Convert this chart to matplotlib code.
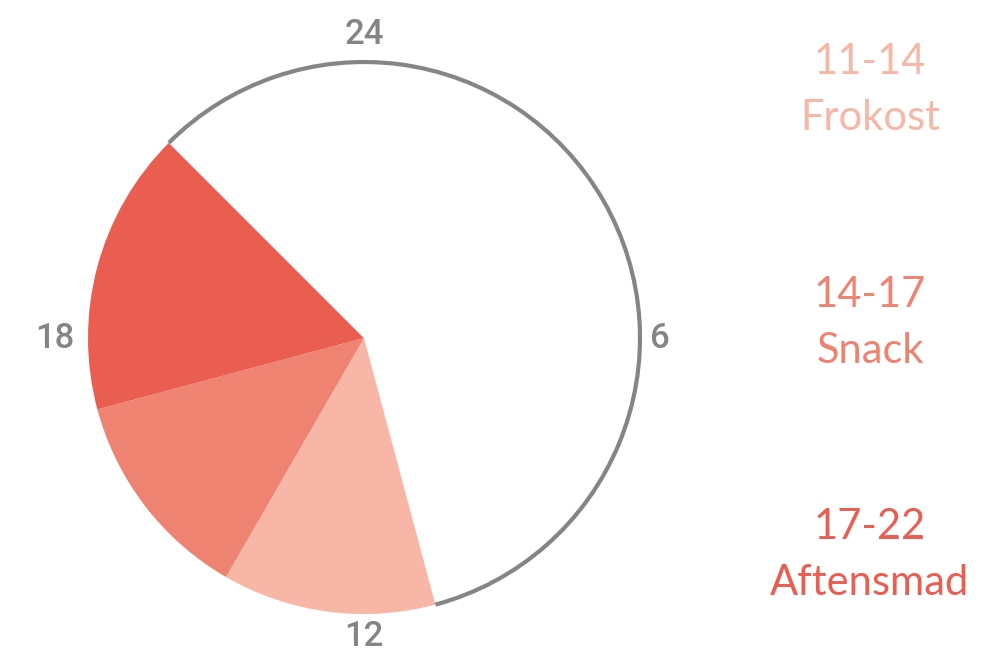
import numpy as np
import matplotlib.pyplot as plt
from matplotlib.patches import Arc

# hours of the day, clockwise from 24 at the top
segment_hours = [11, 3, 3, 4, 3]
segment_colors = ['white', '#F7B6A6', '#EF8372', '#EA5D51', 'white']

meal_times = ['11-14', '14-17', '17-22']
meal_names = ['Frokost', 'Snack', 'Aftensmad']
meal_colors = ['#F7B6A6', '#EF8372', '#EA5D51']

clock_labels = ['24', '6', '12', '18']
clock_hours = [0, 6, 12, 18]

fig = plt.figure(figsize=(9.96, 6.55), dpi=100)
ax = fig.add_axes([0, 0, 1, 1])

cx, cy, r = 364, 317, 276

ax.pie(segment_hours, colors=segment_colors, startangle=90, counterclock=False,
       center=(cx, cy), radius=r, frame=True,
       wedgeprops=dict(linewidth=0, antialiased=True))
ax.set_xlim(0, 996)
ax.set_ylim(0, 655)
ax.set_aspect('equal')
ax.axis('off')

# gray outline only over the empty part (21 -> 11 going clockwise)
start_h = sum(segment_hours[:4])
end_h = segment_hours[0]
ax.add_patch(Arc((cx, cy), 2 * r, 2 * r, theta1=90 - end_h * 15,
                 theta2=90 - start_h * 15 + 360, color='#858585', lw=3))

label_dist = [303, 296, 298, 309]
for lab, h, rr in zip(clock_labels, clock_hours, label_dist):
    a = np.deg2rad(90 - h * 15)
    ax.text(cx + rr * np.sin(np.deg2rad(h * 15)), cy + rr * np.cos(np.deg2rad(h * 15)),
            lab, ha='center', va='center',
            fontsize=25, color='#858585', family='Roboto', fontweight='medium')

ys = [565, 332, 100]
for t, n, c, y in zip(meal_times, meal_names, meal_colors, ys):
    ax.text(870, y + 28, t, ha='center', va='center', fontsize=30, color=c, family='Lato')
    ax.text(870, y - 28, n, ha='center', va='center', fontsize=30, color=c, family='Lato')

fig.savefig('out.png', dpi=100)
